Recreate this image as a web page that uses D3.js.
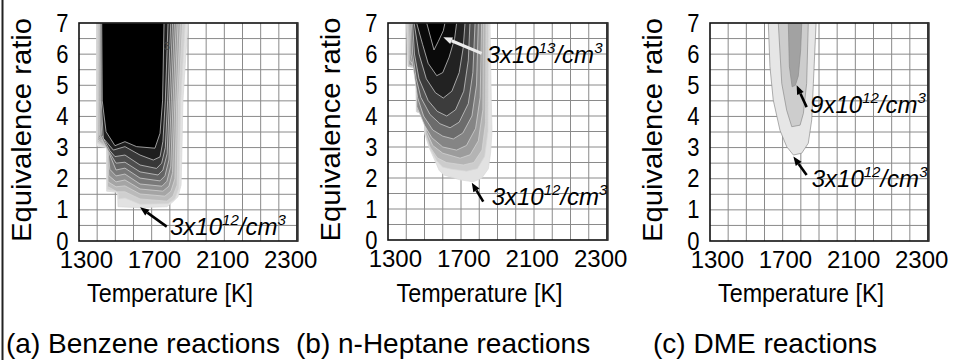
<!DOCTYPE html>
<html>
<head>
<meta charset="utf-8">
<style>
  body { margin: 0; background: #fff; }
  svg { display: block; font-family: "Liberation Sans", Arial, sans-serif; }
</style>
</head>
<body>
<svg id="chart" width="959" height="360"></svg>
<script src="https://cdn.jsdelivr.net/npm/d3@7/dist/d3.min.js"></script>
<script>
// axis data
const tempDomain = [1300, 2500];
const phiDomain = [0, 7];
const xTickLabels = ['1300', '1700', '2100', '2300'];
const yTicks = [0, 1, 2, 3, 4, 5, 6, 7];
const tempGridStep = 100;
const phiGridStep = 0.5;
const xTitle = 'Temperature [K]';
const yTitle = 'Equivalence ratio';
const panelTitles = ['(a) Benzene reactions', '(b) n-Heptane reactions', '(c) DME reactions'];

// contour levels, outer -> inner, as [temperature, equivalence ratio]
const benzeneLevels = [
  [[1397,7],[1397,3.05],[1452,3.0],[1452,1.6],[1512,1.56],[1515,1.1],[1636,1.07],[1735,1.09],[1784,1.1],[1817,1.26],[1845,1.42],[1862,1.8],[1867,3],[1872,4.5],[1900,7]],
  [[1399,7],[1399,3.15],[1453,3.0],[1455,1.65],[1514,1.58],[1518,1.35],[1553,1.38],[1636,1.18],[1790,1.2],[1828,1.35],[1850,1.7],[1860,4.5],[1885,7]],
  [[1401,7],[1401,3.2],[1455,2.99],[1457,1.75],[1510,1.58],[1553,1.58],[1636,1.35],[1784,1.28],[1817,1.44],[1840,1.8],[1848,4.5],[1870,7]],
  [[1403,7],[1403,3.25],[1456,2.98],[1460,1.9],[1504,1.74],[1553,1.77],[1636,1.51],[1773,1.44],[1806,1.6],[1828,2.0],[1838,4.5],[1858,7]],
  [[1405,7],[1405,3.3],[1458,2.97],[1464,2.1],[1504,1.9],[1553,1.96],[1636,1.67],[1762,1.6],[1795,1.76],[1815,2.2],[1828,4.5],[1845,7]],
  [[1407,7],[1408,4.5],[1409,3.35],[1459,2.95],[1470,2.3],[1504,2.09],[1553,2.15],[1636,1.83],[1757,1.76],[1784,1.92],[1805,2.4],[1818,4.5],[1835,7]],
  [[1410,7],[1411,4.5],[1413,3.4],[1460,2.9],[1504,2.28],[1553,2.34],[1636,2.02],[1746,1.93],[1773,2.09],[1795,2.6],[1808,4.5],[1825,7]],
  [[1413,7],[1414,4.5],[1418,3.4],[1462,2.9],[1504,2.5],[1553,2.53],[1636,2.22],[1735,2.12],[1762,2.28],[1785,2.8],[1798,4.5],[1815,7]],
  [[1416,7],[1418,4.5],[1425,3.4],[1470,2.9],[1498,2.71],[1553,2.76],[1636,2.44],[1727,2.33],[1755,2.5],[1775,3.0],[1788,4.5],[1805,7]],
  [[1420,7],[1422,4.5],[1434,3.3],[1489,2.92],[1553,3.03],[1636,2.76],[1709,2.6],[1746,2.7],[1762,3.2],[1775,4.5],[1790,7]],
  [[1425,7],[1428,4.5],[1449,3.51],[1498,3.06],[1553,3.19],[1617,3.03],[1718,2.98],[1746,3.46],[1760,4.5],[1768,7]]
];

const heptaneLevels = [
  [[1402,7],[1410,5.6],[1452,5.56],[1455,4.14],[1500,4.03],[1500,3.44],[1527,2.96],[1564,2.47],[1580,2.25],[1605,2.1],[1695,1.94],[1767,1.88],[1813,1.99],[1850,2.3],[1862,2.8],[1870,3.5],[1866,4.5],[1859,7]],
  [[1404,7],[1410,5.6],[1453,5.55],[1457,4.14],[1503,4.03],[1503,3.44],[1530,2.96],[1567,2.55],[1600,2.35],[1650,2.28],[1731,2.22],[1790,2.3],[1830,2.7],[1848,3.5],[1850,7]],
  [[1406,7],[1411,5.6],[1454,5.55],[1457,4.15],[1504,4.04],[1505,3.45],[1530,3.0],[1570,2.65],[1620,2.5],[1713,2.42],[1770,2.5],[1815,2.9],[1835,3.8],[1837,7]],
  [[1411,7],[1414,5.65],[1455,5.55],[1458,4.2],[1505,4.05],[1510,3.5],[1545,3.05],[1600,2.8],[1695,2.64],[1750,2.75],[1795,3.2],[1820,4.2],[1822,7]],
  [[1416,7],[1420,5.8],[1455,5.5],[1458,4.3],[1500,3.7],[1540,3.3],[1600,3.0],[1676,2.9],[1730,3.05],[1780,3.6],[1805,4.6],[1813,7]],
  [[1422,7],[1426,6],[1440,5.5],[1462,4.6],[1495,4.0],[1545,3.55],[1600,3.35],[1658,3.26],[1710,3.45],[1760,4.0],[1785,5.0],[1795,7]],
  [[1428,7],[1435,6],[1455,5.2],[1480,4.6],[1530,4.05],[1585,3.75],[1640,3.62],[1690,3.8],[1740,4.4],[1765,5.4],[1777,7]],
  [[1435,7],[1445,6],[1470,5.2],[1520,4.5],[1570,4.15],[1622,4.0],[1670,4.2],[1715,4.8],[1740,5.8],[1749,7]],
  [[1443,7],[1470,6.0],[1510,5.2],[1560,4.75],[1603,4.58],[1650,4.8],[1690,5.4],[1712,6.2],[1722,7]],
  [[1457,7],[1490,6.3],[1520,5.7],[1567,5.3],[1600,5.4],[1635,5.9],[1665,6.5],[1676,7]],
  [[1512,7],[1535,6.5],[1552,6.13],[1575,6.4],[1603,6.75],[1612,7]]
];

const dmeLevels = [
  [[1621,7],[1630,5.6],[1648,4.53],[1685,3.56],[1722,3.03],[1759,2.76],[1805,2.82],[1841,3.14],[1860,3.89],[1869,5.06],[1884,7]],
  [[1676,7],[1695,5.06],[1722,4.2],[1750,3.67],[1796,3.72],[1814,4.1],[1832,5.06],[1841,7]],
  [[1731,7],[1737,5.6],[1752,4.95],[1770,5.0],[1786,5.3],[1799,6.13],[1805,7]]
];

// annotations: base text, exponent, arrow tip, arrow tail, text anchor (data units)
const benzeneNotes = [
  { base: '3x10', exp: '12', tip: [1636, 1.08], tail: [1783, 0.46], at: [1801, 0.19], light: false }
];
const heptaneNotes = [
  { base: '3x10', exp: '13', tip: [1603, 6.54], tail: [1813, 6.02], at: [1841, 5.7], light: true },
  { base: '3x10', exp: '12', tip: [1759, 1.85], tail: [1822, 1.24], at: [1868, 1.13], light: false }
];
const dmeNotes = [
  { base: '9x10', exp: '12', tip: [1777, 5.0], tail: [1832, 4.3], at: [1851, 4.11], light: false },
  { base: '3x10', exp: '12', tip: [1759, 2.71], tail: [1832, 2.12], at: [1860, 1.74], light: false }
];
const benzeneLineLabel = { text: '3', at: [1784, 6.13] };

// styles / layout
const benzeneGreys = ['#e2e2e2','#cfcfcf','#bababa','#a5a5a5','#909090','#7a7a7a','#646464','#4e4e4e','#383838','#1e1e1e','#000000'];
const heptaneGreys = ['#e2e2e2','#cccccc','#b4b4b4','#9c9c9c','#858585','#6c6c6c','#555555','#3c3c3c','#222222','#0a0a0a','#000000'];
const dmeGreys = ['#e6e6e6','#cdcdcd','#a2a2a2'];
const FONT = '"Liberation Sans", Arial, sans-serif';

const panels = [
  { left: 79, top: 23, width: 218, height: 218, levels: benzeneLevels, greys: benzeneGreys, notes: benzeneNotes, titleX: 6, lineStroke: '#d8d8d8' },
  { left: 388, top: 23, width: 219, height: 217, levels: heptaneLevels, greys: heptaneGreys, notes: heptaneNotes, titleX: 296, lineStroke: '#d8d8d8' },
  { left: 710, top: 23, width: 218, height: 218, levels: dmeLevels, greys: dmeGreys, notes: dmeNotes, titleX: 653, lineStroke: '#8c8c8c' }
];

const svg = d3.select('#chart');
svg.append('rect').attr('width', 959).attr('height', 360).attr('fill', '#fff');

// outer frame line on the left
svg.append('line')
  .attr('x1', 2.5).attr('x2', 2.5).attr('y1', 0).attr('y2', 360)
  .attr('stroke', '#222').attr('stroke-width', 2);

const defs = svg.append('defs');

panels.forEach((p, i) => {
  const x = d3.scaleLinear().domain(tempDomain).range([0, p.width]);
  const y = d3.scaleLinear().domain(phiDomain).range([p.height, 0]);

  const g = svg.append('g').attr('transform', `translate(${p.left},${p.top})`);

  defs.append('clipPath').attr('id', 'clip' + i)
    .append('rect').attr('width', p.width).attr('height', p.height);

  // grid
  const grid = g.append('g').attr('stroke', '#8a8a8a').attr('stroke-width', 1);
  grid.selectAll('line.v')
    .data(d3.range(tempDomain[0] + tempGridStep, tempDomain[1], tempGridStep))
    .enter().append('line')
    .attr('x1', d => x(d)).attr('x2', d => x(d))
    .attr('y1', 0).attr('y2', p.height);
  grid.selectAll('line.h')
    .data(d3.range(phiDomain[0] + phiGridStep, phiDomain[1], phiGridStep))
    .enter().append('line')
    .attr('x1', 0).attr('x2', p.width)
    .attr('y1', d => y(d)).attr('y2', d => y(d));

  // filled contour levels
  const line = d3.line().x(d => x(d[0])).y(d => y(d[1]));
  g.append('g').attr('clip-path', `url(#clip${i})`)
    .selectAll('path')
    .data(p.levels)
    .enter().append('path')
    .attr('d', d => line(d) + 'Z')
    .attr('fill', (d, k) => p.greys[k])
    .attr('stroke', p.lineStroke)
    .attr('stroke-width', 0.7);

  if (i === 0) {
    g.append('text')
      .attr('x', x(benzeneLineLabel.at[0])).attr('y', y(benzeneLineLabel.at[1]))
      .attr('font-size', 11).attr('fill', '#444').attr('text-anchor', 'middle')
      .text(benzeneLineLabel.text);
  }

  // frame
  g.append('rect')
    .attr('width', p.width).attr('height', p.height)
    .attr('fill', 'none').attr('stroke', '#111').attr('stroke-width', 1.6);
  g.append('line')
    .attr('x1', p.width + 0.5).attr('x2', p.width + 0.5)
    .attr('y1', -0.8).attr('y2', p.height + 0.8)
    .attr('stroke', '#333').attr('stroke-width', 2.4);

  // annotations
  p.notes.forEach(n => {
    const col = n.light ? '#ececec' : '#000';
    const tx = x(n.tail[0]), ty = y(n.tail[1]);
    const hx = x(n.tip[0]), hy = y(n.tip[1]);
    const ang = Math.atan2(hy - ty, hx - tx);
    const L = 9, W = 3.6;
    const bx = hx - L * Math.cos(ang), by = hy - L * Math.sin(ang);
    g.append('line')
      .attr('x1', tx).attr('y1', ty).attr('x2', bx).attr('y2', by)
      .attr('stroke', col).attr('stroke-width', n.light ? 3 : 2.6);
    g.append('path')
      .attr('d', `M${hx},${hy}L${bx - W * Math.sin(ang)},${by + W * Math.cos(ang)}L${bx + W * Math.sin(ang)},${by - W * Math.cos(ang)}Z`)
      .attr('fill', col);
    const t = g.append('text')
      .attr('x', x(n.at[0])).attr('y', y(n.at[1]))
      .attr('font-size', 24).attr('font-style', 'italic').attr('fill', '#000');
    t.append('tspan').text(n.base);
    t.append('tspan').attr('font-size', 15).attr('dy', -10).text(n.exp);
    t.append('tspan').attr('dy', 10).text('/cm');
    t.append('tspan').attr('font-size', 15).attr('dy', -10).text('3');
  });

  // y axis
  const yAxis = g.append('g')
    .call(d3.axisLeft(y).tickValues(yTicks).tickFormat(d3.format('d')).tickSize(0).tickPadding(12));
  yAxis.select('.domain').remove();
  yAxis.selectAll('text')
    .attr('font-size', 25).attr('font-family', FONT).attr('fill', '#000')
    .attr('transform', 'scale(0.88,1)');

  // x axis labels
  const xLab = d3.scalePoint().domain(xTickLabels).range([0, p.width]).padding(0.1);
  const xAxis = g.append('g')
    .attr('transform', `translate(0,${p.height})`)
    .call(d3.axisBottom(xLab).tickSize(0).tickPadding(10));
  xAxis.select('.domain').remove();
  xAxis.selectAll('text')
    .attr('font-size', 24).attr('font-family', FONT).attr('fill', '#000');

  // axis titles
  g.append('text')
    .attr('transform', `translate(-48,${p.height / 2 - 2}) rotate(-90)`)
    .attr('text-anchor', 'middle')
    .attr('font-size', 28)
    .attr('textLength', 224).attr('lengthAdjust', 'spacingAndGlyphs')
    .text(yTitle);
  g.append('text')
    .attr('x', p.width / 2 - 18).attr('y', 279)
    .attr('text-anchor', 'middle')
    .attr('font-size', 26)
    .attr('textLength', 166).attr('lengthAdjust', 'spacingAndGlyphs')
    .text(xTitle);

  // panel caption
  svg.append('text')
    .attr('x', p.titleX).attr('y', 353)
    .attr('font-size', 28)
    .text(panelTitles[i]);
});
</script>
</body>
</html>
